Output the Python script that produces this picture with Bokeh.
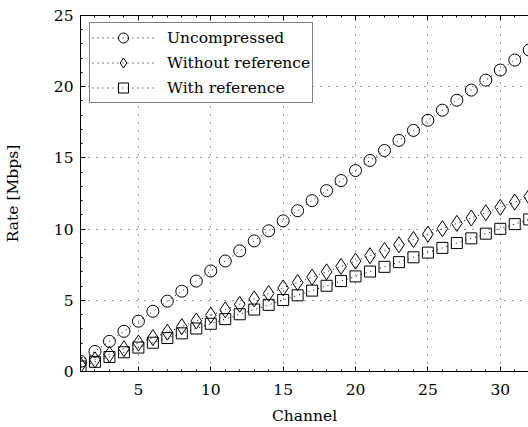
from bokeh.plotting import figure
from bokeh.models import (LinearAxis, Legend, LegendItem, Range1d, SingleIntervalTicker,
                          ColumnDataSource)
from bokeh.embed import file_html
from bokeh.resources import INLINE

channels = list(range(1, 33))
uncompressed = [0.71, 1.41, 2.12, 2.82, 3.53, 4.23, 4.94, 5.64, 6.35, 7.06, 7.76, 8.47,
                9.17, 9.88, 10.58, 11.29, 12.00, 12.70, 13.41, 14.11, 14.82, 15.52, 16.23,
                16.93, 17.64, 18.35, 19.05, 19.76, 20.46, 21.17, 21.87, 22.58]
without_ref = [0.45, 0.82, 1.20, 1.60, 2.00, 2.38, 2.76, 3.15, 3.55, 3.95, 4.33, 4.72,
               5.10, 5.48, 5.87, 6.25, 6.63, 7.00, 7.38, 7.75, 8.13, 8.50, 8.90, 9.27,
               9.65, 10.03, 10.40, 10.78, 11.15, 11.53, 11.90, 12.28]
with_ref = [0.35, 0.68, 1.02, 1.35, 1.68, 2.02, 2.35, 2.68, 3.02, 3.35, 3.68, 4.02,
            4.35, 4.68, 5.02, 5.35, 5.68, 6.02, 6.35, 6.68, 7.02, 7.35, 7.68, 8.02,
            8.35, 8.68, 9.02, 9.35, 9.68, 10.02, 10.35, 10.68]
labels = ["Uncompressed", "Without reference", "With reference"]
x_ticks = [5, 10, 15, 20, 25, 30]
y_ticks = [0, 5, 10, 15, 20, 25]

FONT = "DejaVu Serif"
FS = "15.5px"

p = figure(output_backend="svg", toolbar_location=None,
           width=528, height=427,
           min_border_left=80, min_border_top=15, min_border_right=0, min_border_bottom=56,
           x_range=Range1d(1, 31.95), y_range=Range1d(0, 25),
           x_axis_label="Channel", y_axis_label="Rate [Mbps]")
p.outline_line_color = None
p.background_fill_color = "white"
p.border_fill_color = "white"

xt = SingleIntervalTicker(interval=5, num_minor_ticks=5)
yt = SingleIntervalTicker(interval=5, num_minor_ticks=5)
p.xaxis.ticker = xt
p.yaxis.ticker = yt

for ax in [p.xaxis[0], p.yaxis[0]]:
    ax.axis_line_color = "black"
    ax.axis_line_width = 1
    ax.major_tick_in = 5
    ax.major_tick_out = 0
    ax.minor_tick_in = 2
    ax.minor_tick_out = 0
    ax.major_tick_line_color = "black"
    ax.minor_tick_line_color = "black"
    ax.major_label_text_font = FONT
    ax.major_label_text_font_size = FS
    ax.major_label_text_color = "black"
    ax.axis_label_text_font = FONT
    ax.axis_label_text_font_size = FS
    ax.axis_label_text_font_style = "normal"
    ax.axis_label_text_color = "black"

p.xaxis.major_label_standoff = 12
p.xaxis.axis_label_standoff = 9
p.yaxis.major_label_standoff = 7
p.yaxis.axis_label_standoff = 29

top = LinearAxis(ticker=SingleIntervalTicker(interval=5, num_minor_ticks=5))
top.major_tick_in = 5
top.major_tick_out = 0
top.minor_tick_in = 2
top.minor_tick_out = 0
top.major_label_overrides = {t: "" for t in x_ticks}
top.major_label_standoff = 0
top.axis_line_color = "black"
p.add_layout(top, "above")

for g in [p.xgrid[0], p.ygrid[0]]:
    g.grid_line_color = "#333333"
    g.grid_line_dash = "1 7"
    g.grid_line_width = 1
p.xgrid.ticker = xt
p.ygrid.ticker = yt

src = ColumnDataSource(dict(x=channels, u=uncompressed, w=without_ref, r=with_ref))

items = []
for col, marker, size, label in [("u", "circle", 12, labels[0]),
                                 ("w", "diamond", 16, labels[1]),
                                 ("r", "square", 11, labels[2])]:
    lr = p.line("x", col, source=src, line_color="black", line_dash="1 4", line_width=1)
    sr = p.scatter("x", col, source=src, marker=marker, size=size,
                   fill_color=None, line_color="black", line_width=1)
    items.append(LegendItem(label=label, renderers=[lr, sr]))

legend = Legend(items=items, location=(9, 268))
legend.label_text_font = FONT
legend.label_text_font_size = FS
legend.label_text_color = "black"
legend.border_line_color = "black"
legend.border_line_width = 1
legend.background_fill_alpha = 1
legend.padding = 2
legend.spacing = 0
legend.label_height = 25
legend.glyph_height = 25
legend.glyph_width = 62
legend.label_standoff = 13
legend.margin = 0
p.add_layout(legend, "center")

open("out.html", "w").write(file_html(p, INLINE))
